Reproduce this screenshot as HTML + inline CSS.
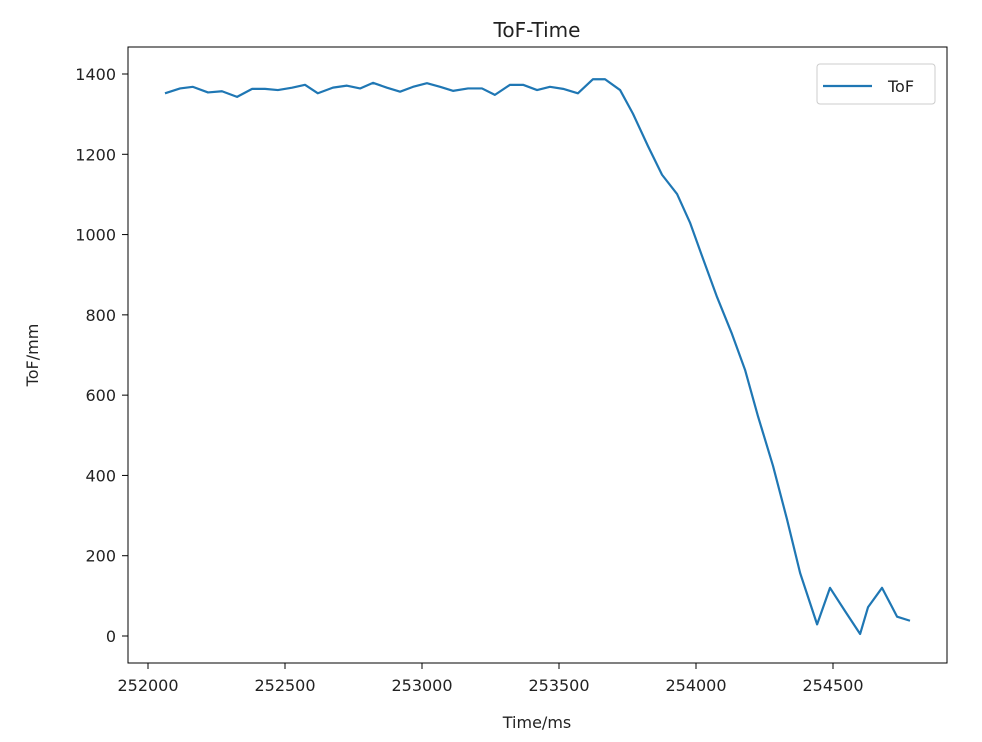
<!DOCTYPE html>
<html><head><meta charset="utf-8"><style>
body{margin:0;background:#fff;}
svg{display:block;font-family:"DejaVu Sans","Liberation Sans",sans-serif;}
</style></head><body>
<svg id="chart" width="982" height="742">
<rect x="0" y="0" width="982" height="742" fill="#fff"/>
<text x="537" y="37" font-size="20" text-anchor="middle" fill="#222">ToF-Time</text>
<g id="xticks"></g>
<g id="yticks"></g>
<g id="series"></g>
<rect x="128" y="47" width="819" height="616" fill="none" stroke="#000" stroke-width="1"/>
<text x="537" y="728" font-size="16" text-anchor="middle" fill="#222">Time/ms</text>
<text x="38" y="355" font-size="16" text-anchor="middle" fill="#222" transform="rotate(-90 38 355)">ToF/mm</text>
<g>
<rect x="817" y="64" width="118" height="40" rx="3" fill="#fff" stroke="#ccc"/>
<line x1="823" y1="86" x2="872" y2="86" stroke="#1f77b4" stroke-width="2.2"/>
<text x="888" y="92" font-size="16" fill="#222">ToF</text>
</g>
</svg>
<script>
const times=[252062,252117,252164,252219,252270,252325,252380,252427,252474,252526,252573,252620,252675,252726,252774,252821,252872,252920,252967,253018,253066,253113,253168,253219,253266,253321,253369,253420,253467,253515,253569,253624,253668,253723,253770,253825,253876,253931,253978,254026,254077,254131,254179,254226,254281,254332,254380,254442,254489,254544,254599,254628,254679,254734,254781];
const tofValues=[1352,1364,1368,1354,1357,1343,1363,1363,1360,1366,1373,1352,1366,1371,1364,1378,1366,1356,1368,1377,1368,1358,1364,1364,1348,1373,1373,1360,1368,1363,1352,1387,1387,1360,1301,1220,1149,1101,1030,939,844,753,663,548,424,291,157,29,120,62,5,72,120,48,38];
const xTickValues=[252000,252500,253000,253500,254000,254500];
const yTickValues=[0,200,400,600,800,1000,1200,1400];
const NS="http://www.w3.org/2000/svg";
function xs(t){return 148+(t-252000)*137/500;}
function ys(v){return 636-v*562/1400;}
const xg=document.getElementById('xticks'),yg=document.getElementById('yticks'),sg=document.getElementById('series');
xTickValues.forEach(t=>{
  const l=document.createElementNS(NS,'line');
  l.setAttribute('x1',xs(t));l.setAttribute('x2',xs(t));l.setAttribute('y1',663);l.setAttribute('y2',669);l.setAttribute('stroke','#000');
  
  
  xg.appendChild(l);
  const tx=document.createElementNS(NS,'text');
  tx.setAttribute('x',xs(t));tx.setAttribute('y',691);tx.setAttribute('font-size','16');tx.setAttribute('text-anchor','middle');tx.setAttribute('fill','#222');
  tx.textContent=t;
  
  
  xg.appendChild(tx);
});
yTickValues.forEach(v=>{
  const l=document.createElementNS(NS,'line');
  l.setAttribute('x1',122);l.setAttribute('x2',128);l.setAttribute('y1',ys(v));l.setAttribute('y2',ys(v));l.setAttribute('stroke','#000');
  
  
  yg.appendChild(l);
  const tx=document.createElementNS(NS,'text');
  tx.setAttribute('x',116);tx.setAttribute('y',ys(v)+6);tx.setAttribute('font-size','16');tx.setAttribute('text-anchor','end');tx.setAttribute('fill','#222');
  tx.textContent=v;
  
  
  yg.appendChild(tx);
});
const p=document.createElementNS(NS,'polyline');
p.setAttribute('points',times.map((t,i)=>xs(t)+','+ys(tofValues[i])).join(' '));
p.setAttribute('fill','none');p.setAttribute('stroke','#1f77b4');p.setAttribute('stroke-width','2.2');p.setAttribute('stroke-linejoin','round');


sg.appendChild(p);
</script>
</body></html>
